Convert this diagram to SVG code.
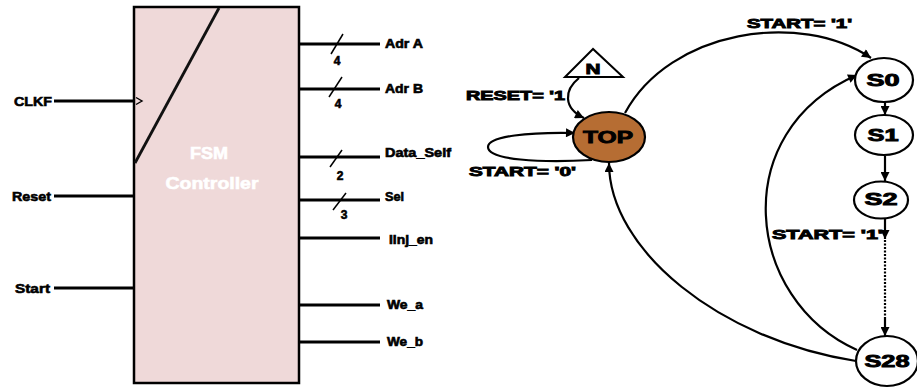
<svg xmlns="http://www.w3.org/2000/svg" width="917" height="388" viewBox="0 0 917 388">
  <defs>
    <style>
      .lbl { font-family: "Liberation Sans", Arial, sans-serif; font-weight: bold; fill: #000; stroke: #000; stroke-width: 0.6; }
      .st { font-family: "Liberation Sans", Arial, sans-serif; font-weight: bold; fill: #000; stroke: #000; stroke-width: 0.9; }
      .wire { stroke: #000; stroke-width: 3; fill: none; }
      .bus { stroke: #000; stroke-width: 1.5; fill: none; }
      .conn { stroke: #000; stroke-width: 2.2; fill: none; }
      .node { stroke: #000; stroke-width: 2.2; fill: #fff; }
    </style>
    <marker id="ah" viewBox="0 0 10 10" refX="10" refY="5" markerWidth="10" markerHeight="9" markerUnits="userSpaceOnUse" orient="auto">
      <path d="M0,0 L10,5 L0,10 z" fill="#000"/>
    </marker>
  </defs>

  <rect width="917" height="388" fill="#fff"/>

  <!-- FSM controller block -->
  <g id="fsm-controller">
    <rect x="134" y="7" width="165" height="376" fill="#EFD9D9" stroke="#000" stroke-width="2.5"/>
    <line x1="219" y1="8" x2="135" y2="163" stroke="#111" stroke-width="2.8"/>
    <polyline points="136,97.5 142,101 136,104.5" fill="none" stroke="#000" stroke-width="1.4"/>
    <text x="209" y="159" text-anchor="middle" font-family="Liberation Sans, Arial, sans-serif" font-weight="bold" font-size="17" fill="#fff" stroke="#fff" stroke-width="0.6" textLength="38" lengthAdjust="spacingAndGlyphs">FSM</text>
    <text x="212" y="189" text-anchor="middle" font-family="Liberation Sans, Arial, sans-serif" font-weight="bold" font-size="17" fill="#fff" stroke="#fff" stroke-width="0.6" textLength="93" lengthAdjust="spacingAndGlyphs">Controller</text>
  </g>

  <!-- input ports -->
  <g id="in-clkf">
    <line class="wire" x1="54" y1="101" x2="134" y2="101"/>
    <text class="lbl" x="14" y="105.5" font-size="13" textLength="38" lengthAdjust="spacingAndGlyphs">CLKF</text>
  </g>
  <g id="in-reset">
    <line class="wire" x1="54" y1="196" x2="134" y2="196"/>
    <text class="lbl" x="12" y="200.5" font-size="13" textLength="39" lengthAdjust="spacingAndGlyphs">Reset</text>
  </g>
  <g id="in-start">
    <line class="wire" x1="54" y1="288" x2="134" y2="288"/>
    <text class="lbl" x="15" y="292.5" font-size="13" textLength="35" lengthAdjust="spacingAndGlyphs">Start</text>
  </g>

  <!-- output ports -->
  <g id="out-adr-a">
    <line class="wire" x1="300" y1="44" x2="380" y2="44"/>
    <line class="bus" x1="331" y1="54" x2="343" y2="34"/>
    <text class="lbl" x="337" y="65" font-size="12" text-anchor="middle">4</text>
    <text class="lbl" x="385" y="48" font-size="12" textLength="38" lengthAdjust="spacingAndGlyphs">Adr A</text>
  </g>
  <g id="out-adr-b">
    <line class="wire" x1="300" y1="89" x2="380" y2="89"/>
    <line class="bus" x1="329" y1="97" x2="342" y2="77"/>
    <text class="lbl" x="338" y="108" font-size="12" text-anchor="middle">4</text>
    <text class="lbl" x="385" y="93" font-size="12" textLength="38" lengthAdjust="spacingAndGlyphs">Adr B</text>
  </g>
  <g id="out-data-self">
    <line class="wire" x1="300" y1="157" x2="380" y2="157"/>
    <line class="bus" x1="330" y1="167" x2="342" y2="150"/>
    <text class="lbl" x="340" y="180" font-size="12" text-anchor="middle">2</text>
    <text class="lbl" x="385" y="157" font-size="12" textLength="66" lengthAdjust="spacingAndGlyphs">Data_Self</text>
  </g>
  <g id="out-sel">
    <line class="wire" x1="300" y1="200" x2="380" y2="200"/>
    <line class="bus" x1="333" y1="210" x2="346" y2="193"/>
    <text class="lbl" x="344" y="219" font-size="12" text-anchor="middle">3</text>
    <text class="lbl" x="385" y="201" font-size="12" textLength="19" lengthAdjust="spacingAndGlyphs">Sel</text>
  </g>
  <g id="out-iinj-en">
    <line class="wire" x1="300" y1="238" x2="380" y2="238"/>
    <text class="lbl" x="389" y="244" font-size="12" textLength="44" lengthAdjust="spacingAndGlyphs">Iinj_en</text>
  </g>
  <g id="out-we-a">
    <line class="wire" x1="300" y1="305" x2="380" y2="305"/>
    <text class="lbl" x="387" y="308.5" font-size="12" textLength="36" lengthAdjust="spacingAndGlyphs">We_a</text>
  </g>
  <g id="out-we-b">
    <line class="wire" x1="300" y1="342" x2="380" y2="342"/>
    <text class="lbl" x="387" y="345.5" font-size="12" textLength="36" lengthAdjust="spacingAndGlyphs">We_b</text>
  </g>

  <!-- state machine transitions -->
  <g id="connectors">
    <path class="conn" d="M579,78 C564,90 563,108 584,118" marker-end="url(#ah)"/>
    <path class="conn" d="M592,160 C540,163 488,160 488,147 C488,136 530,132 575,133" marker-end="url(#ah)"/>
    <path class="conn" d="M625,113 C670,30 800,10 871,58" marker-end="url(#ah)"/>
    <path class="conn" d="M857,350 C745,300 726,132 857,75" marker-end="url(#ah)"/>
    <path class="conn" d="M856,361 C720,340 609,250 609,163" marker-end="url(#ah)"/>
    <path class="conn" d="M885,102 L885,115" marker-end="url(#ah)"/>
    <path class="conn" d="M885,156 L885,181" marker-end="url(#ah)"/>
    <path class="conn" d="M885,218 L885,239" marker-end="url(#ah)"/>
    <path class="conn" d="M885,240 L885,318" stroke-dasharray="2 1.5"/>
    <path class="conn" d="M885,318 L885,336" marker-end="url(#ah)"/>
  </g>

  <!-- transition labels -->
  <text class="st" x="466" y="99.5" font-size="13" textLength="99" lengthAdjust="spacingAndGlyphs">RESET= '1</text>
  <text class="st" x="469" y="175.5" font-size="13" textLength="107" lengthAdjust="spacingAndGlyphs">START= '0'</text>
  <text class="st" x="747" y="27.5" font-size="13" textLength="105" lengthAdjust="spacingAndGlyphs">START= '1'</text>
  <text class="st" x="772" y="238.5" font-size="13" textLength="111" lengthAdjust="spacingAndGlyphs">START= '1'</text>

  <!-- states -->
  <g id="reset-source">
    <polygon points="593,49 565,77 623,77" fill="#fff" stroke="#000" stroke-width="2"/>
    <text class="st" x="593" y="74" font-size="14" text-anchor="middle" textLength="15" lengthAdjust="spacingAndGlyphs">N</text>
  </g>
  <g id="state-top">
    <ellipse cx="609" cy="137" rx="36" ry="25" fill="#B66D33" stroke="#000" stroke-width="2.2"/>
    <text class="st" x="608" y="143" font-size="17" text-anchor="middle" textLength="50" lengthAdjust="spacingAndGlyphs">TOP</text>
  </g>
  <g id="state-s0">
    <ellipse class="node" cx="884" cy="80" rx="29" ry="22"/>
    <text class="st" x="883" y="86" font-size="16" text-anchor="middle" textLength="33" lengthAdjust="spacingAndGlyphs">S0</text>
  </g>
  <g id="state-s1">
    <ellipse class="node" cx="884" cy="135" rx="29" ry="20"/>
    <text class="st" x="883" y="141" font-size="16" text-anchor="middle" textLength="31" lengthAdjust="spacingAndGlyphs">S1</text>
  </g>
  <g id="state-s2">
    <ellipse class="node" cx="881" cy="200" rx="27" ry="18.5"/>
    <text class="st" x="881" y="205" font-size="16" text-anchor="middle" textLength="33" lengthAdjust="spacingAndGlyphs">S2</text>
  </g>
  <g id="state-s28">
    <ellipse class="node" cx="887" cy="361" rx="31" ry="25"/>
    <text class="st" x="887" y="367" font-size="16" text-anchor="middle" textLength="45" lengthAdjust="spacingAndGlyphs">S28</text>
  </g>
</svg>
